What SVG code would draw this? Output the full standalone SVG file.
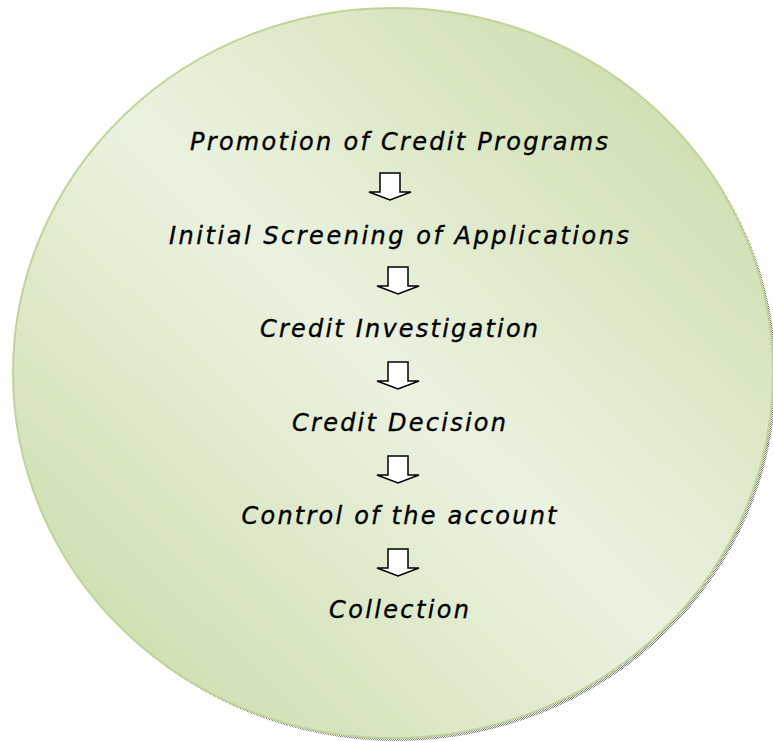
<svg xmlns="http://www.w3.org/2000/svg" width="773" height="742" viewBox="0 0 773 742">
  <defs>
    <linearGradient id="fillGrad" x1="1" y1="0" x2="0" y2="1">
      <stop offset="0" stop-color="#c6d9a2"/>
      <stop offset="0.5" stop-color="#ebf2e0"/>
      <stop offset="1" stop-color="#c6d9a2"/>
    </linearGradient>
    <pattern id="dither" width="2" height="2" patternUnits="userSpaceOnUse">
      <rect width="2" height="2" fill="#ffffff"/>
      <rect width="1" height="1" fill="#7a7a7a"/>
      <rect x="1" y="1" width="1" height="1" fill="#7a7a7a"/>
    </pattern>
    <path id="arrowShape" d="M -10 0 L 10 0 L 10 19 L 21 19 L 0 27 L -21 19 L -10 19 Z"/>
  </defs>
  <style>
    .label { font-family: "DejaVu Sans", Verdana, sans-serif; font-style: italic; font-size: 24px; fill: #000000; stroke: #000000; stroke-width: 0.35; text-anchor: middle; }
    .arrow { fill: #ffffff; stroke: #000000; stroke-width: 1.5; stroke-linejoin: miter; }
  </style>
  <rect width="773" height="742" fill="#ffffff"/>
  <g id="circle">
    <ellipse cx="396" cy="376" rx="380" ry="365" fill="url(#dither)"/>
    <ellipse cx="393" cy="373" rx="380" ry="365" fill="url(#fillGrad)" stroke="#bfd496" stroke-width="2"/>
  </g>
  <g id="node-promotion"><text class="label" x="399" y="150" textLength="418" lengthAdjust="spacing">Promotion of Credit Programs</text></g>
  <g id="node-screening"><text class="label" x="399" y="244" textLength="460" lengthAdjust="spacing">Initial Screening of Applications</text></g>
  <g id="node-investigation"><text class="label" x="399" y="337" textLength="278" lengthAdjust="spacing">Credit Investigation</text></g>
  <g id="node-decision"><text class="label" x="399" y="431" textLength="214" lengthAdjust="spacing">Credit Decision</text></g>
  <g id="node-control"><text class="label" x="399" y="524" textLength="315" lengthAdjust="spacing">Control of the account</text></g>
  <g id="node-collection"><text class="label" x="399" y="618" textLength="140" lengthAdjust="spacing">Collection</text></g>
  <g id="connectors">
    <use href="#arrowShape" class="arrow" transform="translate(390,173)"/>
    <use href="#arrowShape" class="arrow" transform="translate(398,267)"/>
    <use href="#arrowShape" class="arrow" transform="translate(398,362)"/>
    <use href="#arrowShape" class="arrow" transform="translate(398,456)"/>
    <use href="#arrowShape" class="arrow" transform="translate(398,549)"/>
  </g>
</svg>
